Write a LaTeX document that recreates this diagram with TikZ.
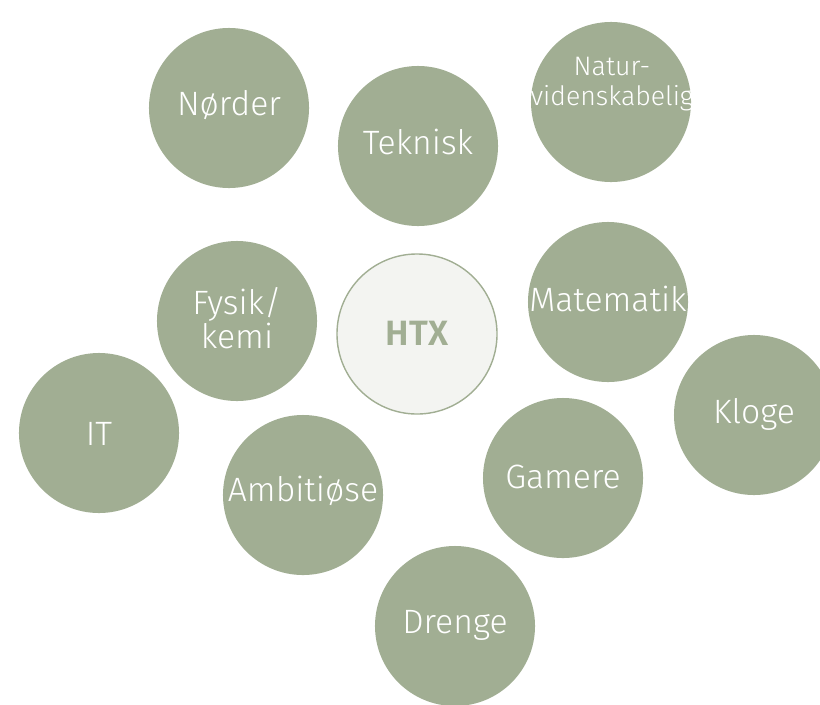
\documentclass[tikz,border=0pt]{standalone}
\usepackage{fontspec}
\setmainfont{Fira Sans Light}
\newfontfamily\htxfont{Fira Sans SemiBold}

\definecolor{sage}{HTML}{A1AE93}
\definecolor{paper}{HTML}{F3F4F1}

\tikzset{
    bubble/.style={circle, fill=sage, minimum size=4cm, inner sep=0pt},
    word/.style={text=white, font=\fontsize{24}{22}\selectfont, align=center, inner sep=0pt},
    core/.style={circle, fill=paper, draw=sage, line width=1pt, minimum size=4cm, inner sep=0pt},
}

\begin{document}
\begin{tikzpicture}[x=0.025cm, y=-0.025cm]
        \useasboundingbox (0, 0) rectangle (820, 704);

        % the circles round the middle
        \foreach \x/\y/\ty/\n/\t in {
            229/108/105/nord/Nørder,
            418/146/142/tekn/Teknisk,
            237/321/318/fys/{Fysik/\\kemi},
            608/302/299/mat/Matematik,
            99/433/434/it/IT,
            303/495/491/amb/Ambitiøse,
            563/478/477/game/Gamere,
            754/415/414/klog/Kloge,
            455/626/625/dren/Drenge} {
            \node[bubble] (\n) at (\x, \y) {};
            \node[word] (\n-t) at (\x, \ty) {\t};
        }

        \node[bubble] (nat) at (611, 102) {};
        \node[word, font=\fontsize{19}{21}\selectfont] (nat-t) at (612, 84) {Natur-\\videnskabelig};

        \node[core] (htx) at (417, 334) {};
        \node[text=sage, font=\htxfont\fontsize{25}{25}\selectfont, inner sep=0pt] (htx-t) at (417, 333) {HTX};
    \end{tikzpicture}
\end{document}
